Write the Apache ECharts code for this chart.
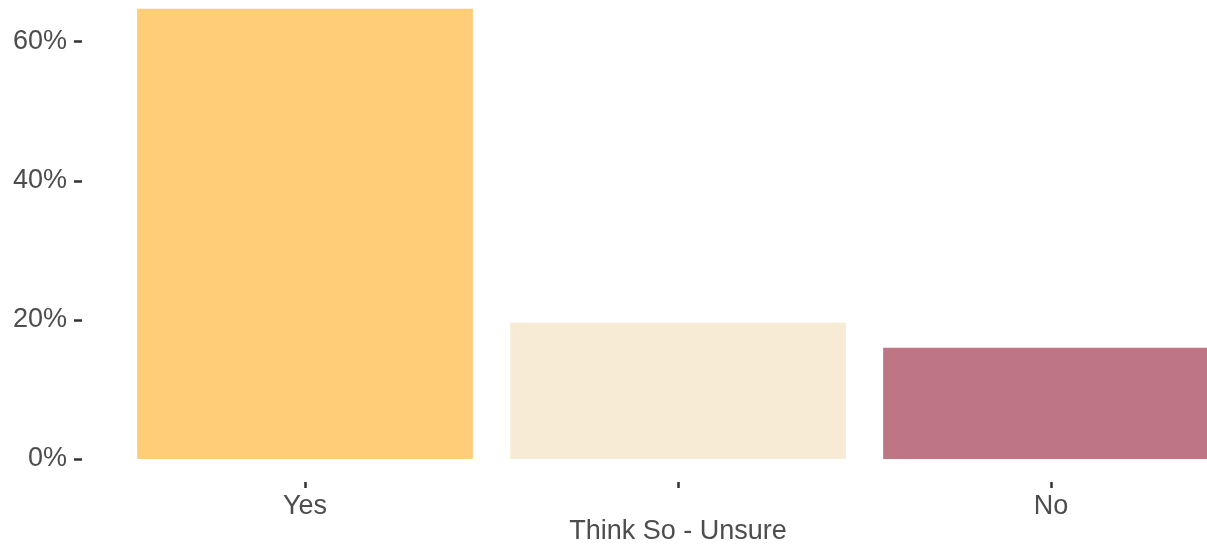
<!DOCTYPE html>
<html>
<head>
<meta charset="utf-8">
<script src="https://cdn.jsdelivr.net/npm/echarts@6/dist/echarts.min.js"></script>
<style>
html,body{margin:0;padding:0;background:#fff;}
#chart{width:1207px;height:547px;}
</style>
</head>
<body>
<div id="chart"></div>
<script>
const categories = ['Yes', 'Think So - Unsure', 'No'];
const values = [64.75, 19.6, 16.0];
const barColors = ['#FECD77', '#F7EBD5', '#BE7584'];
const yTicks = [0, 20, 40, 60];

const chart = echarts.init(document.getElementById('chart'), null, {renderer: 'canvas'});
const textColor = '#4D4D4D';
const tickColor = '#333333';
const font = '"Liberation Sans", Arial, Helvetica, sans-serif';

chart.setOption({
  animation: false,
  backgroundColor: '#ffffff',
  grid: {
    left: 118.5, right: -30.5, top: 0, bottom: 88,
    containLabel: false, outerBoundsMode: 'none'
  },
  xAxis: {
    type: 'category',
    data: categories,
    offset: 23,
    axisLine: {show: true, onZero: false, lineStyle: {color: 'rgba(0,0,0,0)', width: 0}},
    axisTick: {show: true, alignWithLabel: true, length: 6, lineStyle: {color: tickColor, width: 2.5}},
    axisLabel: {
      interval: 0,
      margin: 12,
      color: textColor,
      fontSize: 27,
      fontFamily: font,
      lineHeight: 25,
      formatter: function (v, i) { return i % 2 === 1 ? '\n' + v : v; }
    },
    splitLine: {show: false}
  },
  yAxis: {
    type: 'value',
    min: 0,
    max: 66,
    interval: 20,
    offset: 36.5,
    axisLine: {show: false},
    axisTick: {show: true, length: 8, customValues: yTicks, lineStyle: {color: tickColor, width: 2.5}},
    axisLabel: {
      margin: 15,
      color: textColor,
      fontSize: 27,
      fontFamily: font,
      customValues: yTicks,
      formatter: function (v) { return v + '%'; }
    },
    splitLine: {show: false}
  },
  series: [{
    type: 'bar',
    data: values.map((v, i) => ({value: v, itemStyle: {color: barColors[i]}})),
    barCategoryGap: '10%',
    barWidth: '90%'
  }]
});
</script>
</body>
</html>
